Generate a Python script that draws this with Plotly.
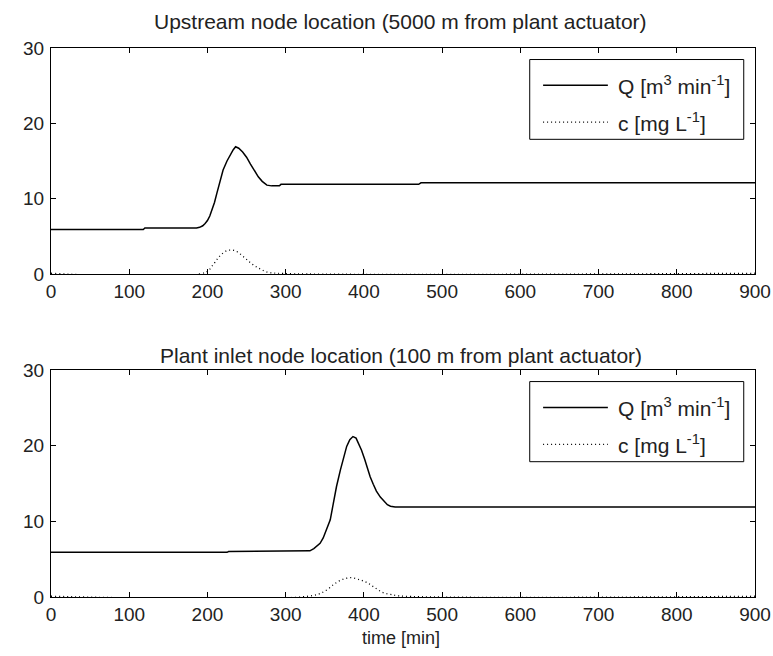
import plotly.graph_objects as go

# ---------------- data ----------------
t_q_up = [0, 118, 120, 186, 190, 194, 197, 200, 203, 206, 209, 212, 216, 220, 225, 229, 233, 236, 240,
          245, 250, 255, 260, 265, 270, 276, 282, 292, 294, 470, 473, 900]
q_up = [5.9, 5.9, 6.1, 6.1, 6.2, 6.4, 6.7, 7.1, 7.7, 8.5, 9.5, 10.7, 12.2, 13.8, 15.0, 15.8, 16.5, 16.9, 16.7,
        16.2, 15.5, 14.6, 13.7, 12.9, 12.3, 11.8, 11.7, 11.7, 11.9, 11.9, 12.1, 12.1]

t_c_up = [0, 197, 207, 215, 225, 235, 246, 256, 266, 277, 290, 900]
c_up = [0.1, 0.2, 1.2, 2.3, 3.1, 3.1, 2.3, 1.4, 0.75, 0.25, 0.1, 0.1]

t_q_dn = [0, 225, 227, 331, 336, 340, 344, 348, 352, 357, 361, 365, 370, 374, 378, 382, 386, 390, 394,
          397, 401, 405, 408, 412, 416, 421, 426, 430, 434, 440, 900]
q_dn = [5.9, 5.9, 6.0, 6.1, 6.4, 6.7, 7.1, 7.8, 8.8, 10.2, 12.4, 14.6, 16.8, 18.5, 19.9, 20.8, 21.2, 21.0, 20.2,
        19.4, 18.2, 16.8, 15.9, 14.9, 14.0, 13.2, 12.6, 12.2, 12.0, 11.9, 11.9]

t_c_dn = [0, 335, 352, 362, 372, 383, 394, 404, 413, 424, 434, 445, 900]
c_dn = [0.1, 0.2, 0.9, 1.7, 2.3, 2.55, 2.3, 1.9, 1.3, 0.6, 0.35, 0.15, 0.1]

titles = ["Upstream node location (5000 m from plant actuator)",
          "Plant inlet node location (100 m from plant actuator)"]
legend_labels = ["Q [m<sup>3</sup> min<sup>-1</sup>]", "c [mg L<sup>-1</sup>]"]
x_ticks = [0, 100, 200, 300, 400, 500, 600, 700, 800, 900]
y_ticks = [0, 10, 20, 30]
x_label = "time [min]"

FONT = "Liberation Sans, Arial, sans-serif"
TXT = "#222222"
DOT = "1px,3px"

fig = go.Figure()

# top panel
fig.add_trace(go.Scatter(x=t_q_up, y=q_up, mode="lines", line=dict(color="black", width=1.5),
                         xaxis="x", yaxis="y", showlegend=False, name="Q"))
fig.add_trace(go.Scatter(x=t_c_up, y=c_up, mode="lines",
                         line=dict(color="black", width=1.3, dash=DOT, shape="spline"),
                         xaxis="x", yaxis="y", showlegend=False, name="c"))
# bottom panel
fig.add_trace(go.Scatter(x=t_q_dn, y=q_dn, mode="lines", line=dict(color="black", width=1.5),
                         xaxis="x2", yaxis="y2", showlegend=False, name="Q"))
fig.add_trace(go.Scatter(x=t_c_dn, y=c_dn, mode="lines",
                         line=dict(color="black", width=1.3, dash=DOT, shape="spline"),
                         xaxis="x2", yaxis="y2", showlegend=False, name="c"))

axis_common = dict(showline=True, linecolor="black", linewidth=1, mirror="allticks",
                   ticks="inside", ticklen=5, tickcolor="black", tickwidth=1,
                   showgrid=False, zeroline=False, automargin=False,
                   tickfont=dict(family=FONT, size=19, color=TXT))

fig.update_layout(
    width=773, height=656,
    margin=dict(l=51, r=18, t=48, b=59),
    paper_bgcolor="white", plot_bgcolor="white",
    showlegend=False,
    xaxis=dict(domain=[0, 1], range=[0, 900], tickvals=x_ticks, anchor="y", **axis_common),
    yaxis=dict(domain=[0.5883, 1], range=[0, 30], tickvals=y_ticks, anchor="x",
               ticklabelstandoff=2, **axis_common),
    xaxis2=dict(domain=[0, 1], range=[0, 900], tickvals=x_ticks, anchor="y2", **axis_common),
    yaxis2=dict(domain=[0, 0.4135], range=[0, 30], tickvals=y_ticks, anchor="x2",
                ticklabelstandoff=2, **axis_common),
)

shapes = []
annotations = []
for xr, yr in [("x domain", "y domain"), ("x2 domain", "y2 domain")]:
    # legend box
    shapes.append(dict(type="rect", xref=xr, yref=yr, x0=0.680, x1=0.984, y0=0.596, y1=0.949,
                       line=dict(color="black", width=1), fillcolor="white", layer="above"))
    shapes.append(dict(type="line", xref=xr, yref=yr, x0=0.699, x1=0.791, y0=0.835, y1=0.835,
                       line=dict(color="black", width=1.5), layer="above"))
    shapes.append(dict(type="line", xref=xr, yref=yr, x0=0.699, x1=0.791, y0=0.672, y1=0.672,
                       line=dict(color="black", width=1.3, dash=DOT), layer="above"))
    annotations.append(dict(xref=xr, yref=yr, x=0.803, y=0.835, xanchor="left", yanchor="middle",
                            text=legend_labels[0], showarrow=False,
                            font=dict(family=FONT, size=21, color=TXT)))
    annotations.append(dict(xref=xr, yref=yr, x=0.803, y=0.672, xanchor="left", yanchor="middle",
                            text=legend_labels[1], showarrow=False,
                            font=dict(family=FONT, size=21, color=TXT)))

annotations.append(dict(xref="paper", yref="paper", x=0.497, y=1.0474, xanchor="center", yanchor="middle",
                        text=titles[0], showarrow=False, font=dict(family=FONT, size=21, color=TXT)))
annotations.append(dict(xref="paper", yref="paper", x=0.497, y=0.4408, xanchor="center", yanchor="middle",
                        text=titles[1], showarrow=False, font=dict(family=FONT, size=21, color=TXT)))
annotations.append(dict(xref="paper", yref="paper", x=0.497, y=-0.0747, xanchor="center", yanchor="middle",
                        text=x_label, showarrow=False, font=dict(family=FONT, size=18, color=TXT)))

fig.update_layout(shapes=shapes, annotations=annotations)

fig.write_html("out.html")
